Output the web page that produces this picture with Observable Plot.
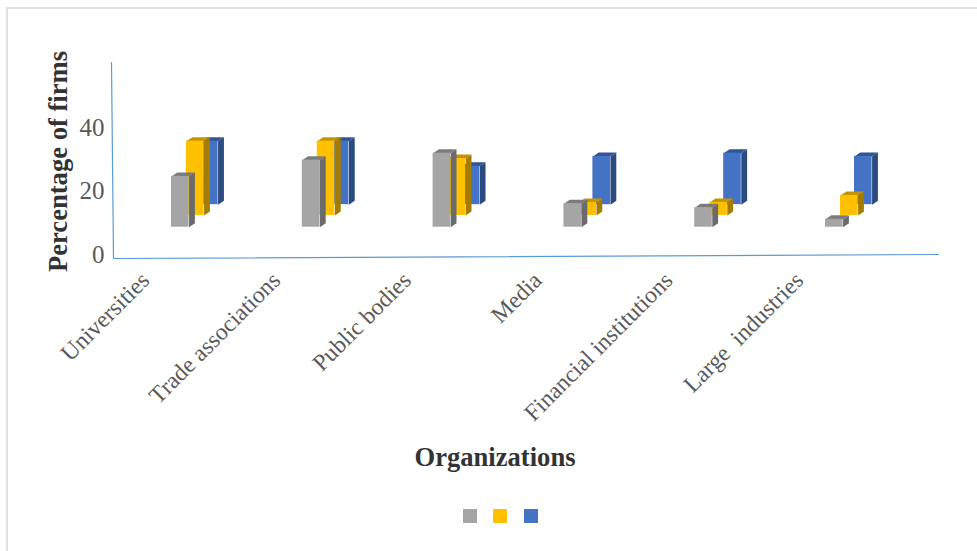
<!DOCTYPE html>
<html>
<head>
<meta charset="utf-8">
<script src="https://cdn.jsdelivr.net/npm/d3@7"></script>
<script src="https://cdn.jsdelivr.net/npm/@observablehq/plot@0.6"></script>
<style>
html,body{margin:0;padding:0;background:#fff;width:977px;height:551px;overflow:hidden}
#frame{position:absolute;left:6px;top:7px;right:-4px;bottom:-4px;border:2px solid #dedede;pointer-events:none}
#chart svg{display:block;background:transparent}
#legend{position:absolute;top:509px;left:463px;display:flex}
#legend span{display:block;width:14px;height:14px}
</style>
</head>
<body>
<div id="frame"></div>
<div id="chart"></div>
<div id="legend"></div>
<script>
const categories = ["Universities","Trade associations","Public bodies","Media","Financial institutions","Large  industries"];
const grayValues   = [24.6, 29.7, 31.9, 16.0, 14.7, 11.1];
const yellowValues = [35.7, 35.7, 30.2, 16.4, 16.4, 18.6];
const blueValues   = [35.7, 35.7, 27.8, 30.9, 31.9, 30.9];
const yTicks = [0, 20, 40];

const barWidth = 0.1345, depth = 0.0445, rise = 1.26;
const series = [
  {name:"blue",   values:blueValues,   base:15.7, offset:0.2217, front:"#4472c4", side:"#2a4a80", top:"#2f5597"},
  {name:"yellow", values:yellowValues, base:12.3, offset:0.1147, front:"#ffc000", side:"#a67c00", top:"#c49300"},
  {name:"gray",   values:grayValues,   base:8.6,  offset:0,      front:"#a5a5a5", side:"#6b6b6b", top:"#7c7c7c"}
];

function barMarks(s) {
  const bars = s.values.map((v,i)=>({i, x1:i+s.offset, x2:i+s.offset+barWidth, y1:s.base, y2:v}));
  const side = bars.flatMap(b=>[
    {id:b.i,x:b.x2,y:b.y1},{id:b.i,x:b.x2+depth,y:b.y1+rise},
    {id:b.i,x:b.x2+depth,y:b.y2+rise},{id:b.i,x:b.x2,y:b.y2}]);
  const top = bars.flatMap(b=>[
    {id:b.i,x:b.x1,y:b.y2},{id:b.i,x:b.x2,y:b.y2},
    {id:b.i,x:b.x2+depth,y:b.y2+rise},{id:b.i,x:b.x1+depth,y:b.y2+rise}]);
  return [
    Plot.line(side,{x:"x",y:"y",z:"id",fill:s.side,stroke:"none"}),
    Plot.line(top,{x:"x",y:"y",z:"id",fill:s.top,stroke:"none"}),
    Plot.rect(bars,{x1:"x1",x2:"x2",y1:"y1",y2:"y2",fill:s.front})
  ];
}

const step = 130.8;
const xMin = (111-171)/step, xMax = (938-171)/step;
const yMax = (254-62)/3.175, yLow = -4/3.175;
const font = "'Liberation Serif','Times New Roman',serif";

const chart = Plot.plot({
  width:977, height:495,
  marginLeft:111, marginRight:39, marginTop:62, marginBottom:241,
  style:{fontFamily:font, background:"transparent"},
  x:{type:"linear", domain:[xMin,xMax], axis:null},
  y:{type:"linear", domain:[0,yMax], axis:null},
  marks:[
    Plot.line([{x:xMin,y:yMax},{x:xMin+2/step,y:yLow}],{x:"x",y:"y",stroke:"#5b9bd5",strokeWidth:1.2}),
    Plot.line([{x:xMin+2/step,y:yLow},{x:xMax,y:0}],{x:"x",y:"y",stroke:"#5b9bd5",strokeWidth:1.2}),
    ...series.flatMap(barMarks),
    Plot.axisY({ticks:yTicks, tickSize:0, tickPadding:7, label:null, fontSize:25, color:"#595959", anchor:"left"}),
    Plot.axisX({ticks:categories.map((_,i)=>i), tickFormat:i=>categories[i], tickSize:0, tickPadding:22, dx:-26, tickRotate:-45, label:null, fontSize:23.6, color:"#595959", anchor:"bottom"}),
    Plot.text(["Organizations"],{frameAnchor:"bottom", dx:-30, dy:203, lineAnchor:"middle", fontSize:26.6, fontWeight:"bold", fill:"#333333"}),
    Plot.text(["Percentage of firms"],{frameAnchor:"left", textAnchor:"middle", lineAnchor:"middle", dx:-53, dy:3, rotate:-90, fontSize:26.6, fontWeight:"bold", fill:"#333333"})
  ]
});
document.getElementById("chart").append(chart);

const legend = document.getElementById("legend");
[series[2],series[1],series[0]].forEach((s,i)=>{
  const el=document.createElement("span");
  el.style.background=s.front;
  if(i>0) el.style.marginLeft = (i===1?16:17)+"px";
  legend.append(el);
});
</script>
</body>
</html>
